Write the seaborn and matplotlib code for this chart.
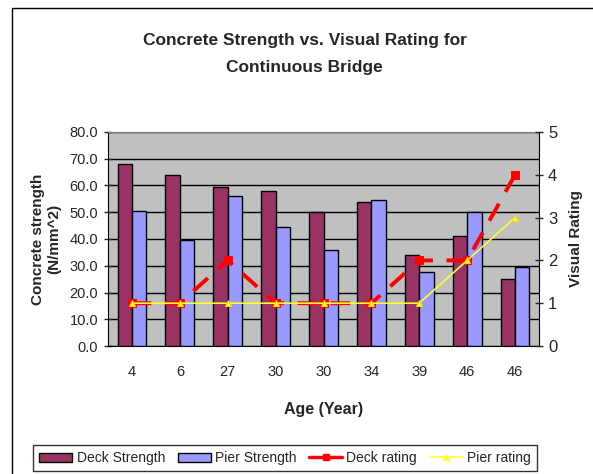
import numpy as np
import pandas as pd
import seaborn as sns
import matplotlib.pyplot as plt
from matplotlib.patches import Rectangle
from matplotlib.lines import Line2D

ages = ["4", "6", "27", "30", "30", "34", "39", "46", "46"]
deck_strength = [68, 64, 59.5, 58, 50, 54, 34, 41, 25]
pier_strength = [50.5, 39.5, 56, 44.5, 36, 54.5, 27.5, 50, 29.5]
deck_rating = [1, 1, 2, 1, 1, 1, 2, 2, 4]
pier_rating = [1, 1, 1, 1, 1, 1, 1, 2, 3]

sns.set_style("white")
plt.rcParams['font.family'] = ['Liberation Sans', 'DejaVu Sans']

pos = list(range(len(ages)))
bars = pd.DataFrame({
    "pos": pos * 2,
    "strength": deck_strength + pier_strength,
    "series": ["Deck Strength"] * len(ages) + ["Pier Strength"] * len(ages),
})
ratings = pd.DataFrame({"pos": pos, "deck": deck_rating, "pier": pier_rating})

fig = plt.figure(figsize=(5.93, 4.74), dpi=100)
ax = fig.add_axes([108 / 593, 1 - 346 / 474, (539 - 108) / 593, (346 - 132) / 474])
ax.set_facecolor("#C0C0C0")

sns.barplot(data=bars, x="pos", y="strength", hue="series", ax=ax, width=0.6,
            palette=["#993366", "#9999FF"], edgecolor="black", linewidth=1,
            saturation=1, legend=False, zorder=3)
ax.set_xlim(-0.5, len(ages) - 0.5)
ax.set_ylim(0, 80)
ax.set_yticks(np.arange(0, 81, 10))
ax.set_yticklabels([f"{v:.1f}" for v in np.arange(0, 81, 10)], fontsize=10.5)
ax.set_xticks(pos)
ax.set_xticklabels(ages, fontsize=10.5)
ax.set_xticks(np.arange(-0.5, len(ages), 1), minor=True)
ax.tick_params(axis="x", which="major", length=0, pad=14)
ax.tick_params(axis="x", which="minor", length=6, direction="inout", width=1)
ax.tick_params(axis="y", length=6, direction="inout", width=1, pad=4)
ax.grid(axis="y", color="black", linewidth=1, zorder=0)
ax.set_axisbelow(True)
for s in ax.spines.values():
    s.set_color("black")
ax.spines["top"].set_color("#808080")
ax.set_xlabel("Age (Year)", fontsize=11.5, fontweight="bold", labelpad=16)
ax.set_ylabel("Concrete strength\n(N/mm^2)", fontsize=11, fontweight="bold", labelpad=6)

ax2 = ax.twinx()
sns.lineplot(data=ratings, x="pos", y="deck", ax=ax2, color="red", linewidth=2.8,
             dashes=False, linestyle=(0, (5, 3.5)), marker="s", markersize=5.5,
             markeredgecolor="red", zorder=5)
sns.lineplot(data=ratings, x="pos", y="pier", ax=ax2, color="#FFFF33", linewidth=1.2,
             marker="^", markersize=5, markeredgecolor="#FFD700", zorder=6)
ax2.set_ylim(0, 5)
ax2.set_yticks(range(6))
ax2.set_yticklabels([str(v) for v in range(6)], fontsize=12)
ax2.tick_params(axis="y", length=6, direction="inout", width=1)
ax2.set_ylabel("Visual Rating", fontsize=11, fontweight="bold", labelpad=8)
ax2.set_xlim(-0.5, len(ages) - 0.5)
for s in ax2.spines.values():
    s.set_visible(False)

fig.suptitle("Concrete Strength vs. Visual Rating for\nContinuous Bridge",
             x=0.514, y=0.93, fontsize=12.5, fontweight="bold", linespacing=2.0)

# outer chart border
fig.patches.append(Rectangle((12 / 593, -0.1), 1.2, 1 - 8 / 474 + 0.1,
                             transform=fig.transFigure, fill=False,
                             edgecolor="black", linewidth=1))

handles = [
    Rectangle((0, 0), 1, 1, facecolor="#993366", edgecolor="black"),
    Rectangle((0, 0), 1, 1, facecolor="#9999FF", edgecolor="black"),
    Line2D([], [], color="red", linewidth=2.5, marker="s", markersize=5),
    Line2D([], [], color="#FFFF33", linewidth=1.2, marker="^", markersize=4),
]
leg = fig.legend(handles, ["Deck Strength", "Pier Strength", "Deck rating", "Pier rating"],
                 loc="center", bbox_to_anchor=(285 / 593, 1 - 458 / 474), ncol=4,
                 fontsize=10, frameon=True, fancybox=False, handlelength=2.4,
                 handleheight=0.6, handletextpad=0.3, columnspacing=0.9, borderpad=0.45)
leg.get_frame().set_edgecolor("black")
leg.get_frame().set_linewidth(1)

fig.savefig("out.png", dpi=100)
